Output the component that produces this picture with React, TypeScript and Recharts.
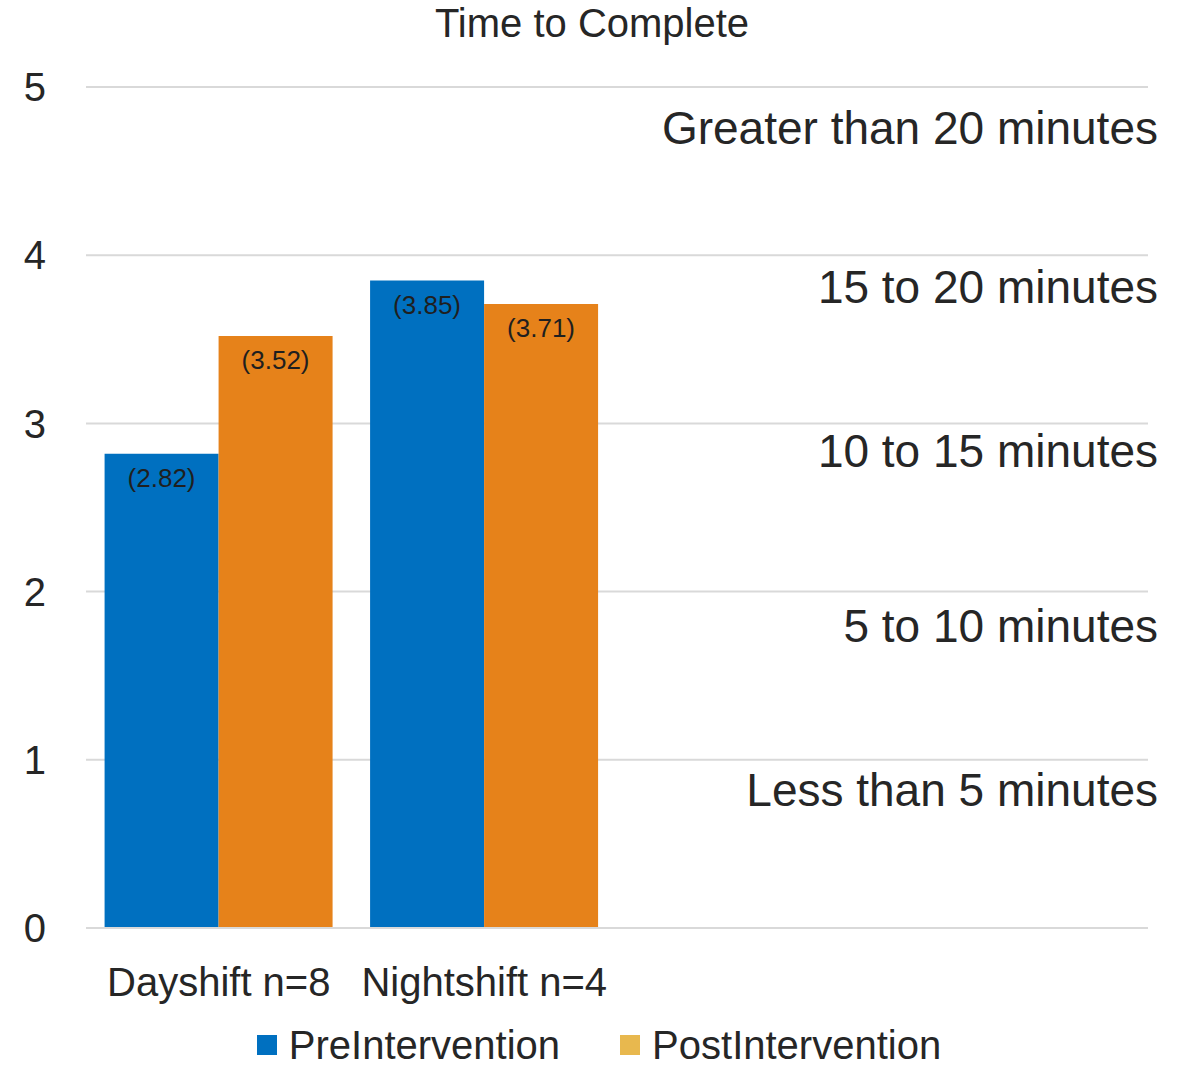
import { BarChart, Bar, XAxis, YAxis, CartesianGrid, Legend, LabelList, ReferenceLine } from "recharts";

const categories = ["Dayshift n=8", "Nightshift n=4", "", " "];
const preIntervention = [2.82, 3.85, null, null];
const postIntervention = [3.52, 3.71, null, null];
const yTicks = [0, 1, 2, 3, 4, 5];
const bandLabels = [
  "Greater than 20 minutes",
  "15 to 20 minutes",
  "10 to 15 minutes",
  "5 to 10 minutes",
  "Less than 5 minutes",
];
const bandLabelLevels = [4.76, 3.81, 2.84, 1.8, 0.82];

const FONT = "'Liberation Sans', Arial, sans-serif";
const TEXT = "#262626";
const PRE = "#0070C0";
const POST = "#E6821A";
const POST_LEGEND = "#E8B84E";

const data = categories.map((name, i) => ({
  name,
  pre: preIntervention[i],
  post: postIntervention[i],
}));

const fmt = (v: any) => (v == null ? "" : `(${Number(v).toFixed(2)})`);

function LegendBox() {
  const items = [
    { label: "PreIntervention", color: PRE },
    { label: "PostIntervention", color: POST_LEGEND },
  ];
  return (
    <div style={{ display: "flex", justifyContent: "center", alignItems: "flex-end", height: 40, paddingBottom: 7, boxSizing: "border-box", gap: 60, paddingLeft: 50, fontFamily: FONT, fontSize: 40, lineHeight: "32px", color: TEXT }}>
      {items.map((it) => (
        <div key={it.label} style={{ display: "flex", alignItems: "center", height: 32 }}>
          <span style={{ width: 20, height: 20, background: it.color, marginRight: 12, display: "inline-block" }} />
          <span>{it.label}</span>
        </div>
      ))}
    </div>
  );
}

export default function App() {
  return (
    <div style={{ position: "absolute", left: 0, top: 0, width: 1188, height: 1068, background: "#fff" }}>
      <div style={{ position: "absolute", top: 0, left: 0, width: 1184, textAlign: "center", fontFamily: FONT, fontSize: 40, lineHeight: "46px", color: TEXT }}>
        Time to Complete
      </div>
      <BarChart width={1188} height={1068} data={data} margin={{ top: 87, right: 40, left: 0, bottom: 0 }} barCategoryGap="7%" barGap={0}>
        <CartesianGrid vertical={false} stroke="#D9D9D9" strokeWidth={2} />
        <XAxis
          dataKey="name"
          interval={0}
          height={100}
          tickLine={false}
          tickMargin={34}
          axisLine={{ stroke: "#D9D9D9", strokeWidth: 2 }}
          tick={{ fontFamily: FONT, fontSize: 40, fill: TEXT }}
        />
        <YAxis
          domain={[0, 5]}
          ticks={yTicks}
          width={86}
          axisLine={false}
          tickLine={false}
          tickMargin={34}
          tick={{ fontFamily: FONT, fontSize: 40, fill: TEXT }}
        />
        {bandLabels.map((label, i) => (
          <ReferenceLine
            key={label}
            y={bandLabelLevels[i]}
            stroke="none"
            label={{ value: label, position: "insideRight", offset: -10, fontFamily: FONT, fontSize: 46, fill: TEXT }}
          />
        ))}
        <Bar dataKey="pre" name="PreIntervention" fill={PRE} isAnimationActive={false}>
          <LabelList dataKey="pre" position="insideTop" offset={15} formatter={fmt} fontFamily={FONT} fontSize={26} fill="#1f1f1f" />
        </Bar>
        <Bar dataKey="post" name="PostIntervention" fill={POST} isAnimationActive={false}>
          <LabelList dataKey="post" position="insideTop" offset={15} formatter={fmt} fontFamily={FONT} fontSize={26} fill="#1f1f1f" />
        </Bar>
        <Legend verticalAlign="bottom" height={40} content={() => <LegendBox />} />
      </BarChart>
    </div>
  );
}
